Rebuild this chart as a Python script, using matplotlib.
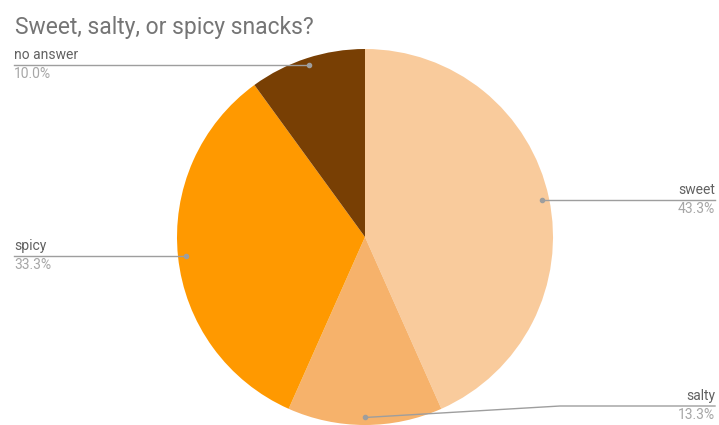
import matplotlib.pyplot as plt
import numpy as np

plt.rcParams['font.family'] = ['Roboto', 'DejaVu Sans']

labels = ['sweet', 'salty', 'spicy', 'no answer']
shares = [43.3, 13.3, 33.3, 10.0]
colors = ['#f9cb9c', '#f6b26b', '#ff9900', '#783f04']

W, H = 719, 425
fig = plt.figure(figsize=(W / 100, H / 100), dpi=100)
ax = fig.add_axes([0, 0, 1, 1])

cx, cy, r = 365, H - 237, 188
wedges, _ = ax.pie(shares, colors=colors, startangle=90, counterclock=False,
                   radius=r, center=(cx, cy), frame=True,
                   wedgeprops=dict(linewidth=0))
ax.set_xlim(0, W)
ax.set_ylim(0, H)
ax.axis('off')

# leader lines: dot inside the slice, then out to the label column
line_c = '#9e9e9e'
side = {'sweet': 'right', 'salty': 'right', 'spicy': 'left', 'no answer': 'left'}
for w, lab, val in zip(wedges, labels, shares):
    mid = np.deg2rad((w.theta1 + w.theta2) / 2)
    px = cx + 0.96 * r * np.cos(mid)
    py = cy + 0.96 * r * np.sin(mid)
    if lab == 'salty':
        ly = H - 406
        xs, ys = [px, 560, 715], [py, ly, ly]
    else:
        ly = py
        xs = [px, 715] if side[lab] == 'right' else [px, 14]
        ys = [ly, ly]
    ax.plot(xs, ys, color=line_c, lw=1)
    ax.plot(px, py, 'o', ms=3, color=line_c)
    if side[lab] == 'right':
        tx, ha = 715, 'right'
    else:
        tx, ha = 14, 'left'
    ax.text(tx, ly + 3, lab, ha=ha, va='bottom', fontsize=10, color='#616161')
    ax.text(tx, ly - 2, f'{val:.1f}%', ha=ha, va='top', fontsize=10, color='#a6a6a6')

fig.text(15 / W, 1 - 34 / H, 'Sweet, salty, or spicy snacks?', fontsize=16.5,
         color='#757575', ha='left', va='baseline')

fig.savefig('out.png', dpi=100)
